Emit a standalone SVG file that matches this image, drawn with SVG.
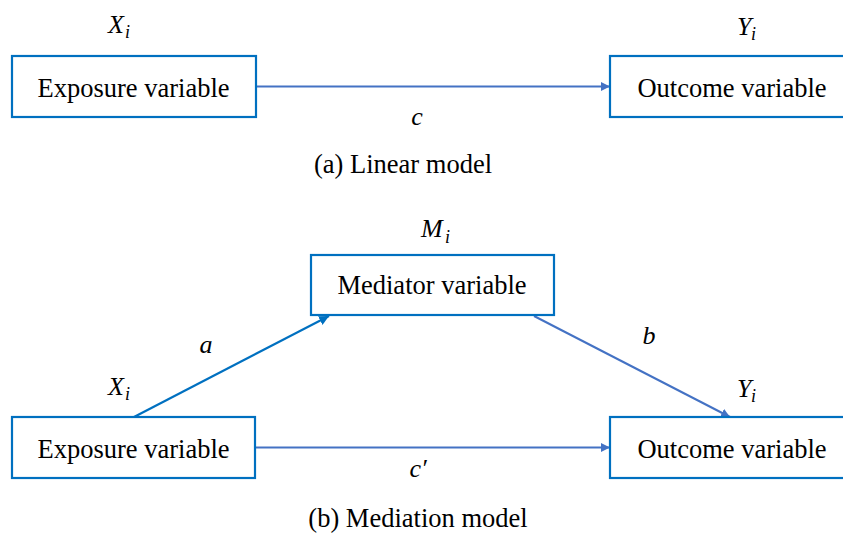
<svg xmlns="http://www.w3.org/2000/svg" width="843" height="542" viewBox="0 0 843 542">
<style>
.box{fill:#fff;stroke:#0070C0;stroke-width:2.2}
.e1{stroke:#4472C4;stroke-width:2;fill:none}
.e2{stroke:#0070C0;stroke-width:2.2;fill:none}
</style>
<defs>
<marker id="ah1" viewBox="0 0 10 10" refX="10" refY="5" markerWidth="4.5" markerHeight="4.5" orient="auto" markerUnits="strokeWidth">
<path d="M0,0 L10,5 L0,10 z" fill="#4472C4"/>
</marker>
<marker id="ah2" viewBox="0 0 10 10" refX="10" refY="5" markerWidth="4.5" markerHeight="4.5" orient="auto" markerUnits="strokeWidth">
<path d="M0,0 L10,5 L0,10 z" fill="#0070C0"/>
</marker>
</defs>
<g id="connectors">
<line class="e1" x1="256" y1="86.5" x2="610" y2="86.5" marker-end="url(#ah1)"/>
<line class="e1" x1="255" y1="447.5" x2="610" y2="447.5" marker-end="url(#ah1)"/>
<line class="e2" x1="134" y1="417" x2="329" y2="316" marker-end="url(#ah2)"/>
<line class="e1" x1="534" y1="316" x2="730" y2="417" marker-end="url(#ah1)"/>
<text x="417" y="125" font-family="Liberation Serif, serif" font-style="italic" font-size="26" text-anchor="middle">c</text>
<text x="206" y="353" font-family="Liberation Serif, serif" font-style="italic" font-size="26" text-anchor="middle">a</text>
<text x="649" y="344" font-family="Liberation Serif, serif" font-style="italic" font-size="26" text-anchor="middle">b</text>
<text x="418" y="477" font-family="Liberation Serif, serif" font-style="italic" font-size="26" text-anchor="middle">c′</text>
</g>
<g id="exposure-a">
<rect class="box" x="12" y="56" width="244" height="61"/>
<text x="133.5" y="97" font-family="Liberation Serif, serif" font-size="26.5" text-anchor="middle">Exposure variable</text>
<text x="108" y="33" font-family="Liberation Serif, serif" font-style="italic" font-size="26">X</text>
<text x="125" y="38" font-family="Liberation Serif, serif" font-style="italic" font-size="18">i</text>
</g>
<g id="outcome-a">
<rect class="box" x="610" y="56" width="250" height="61"/>
<text x="732" y="97" font-family="Liberation Serif, serif" font-size="26.5" text-anchor="middle">Outcome variable</text>
<text x="737" y="35" font-family="Liberation Serif, serif" font-style="italic" font-size="26">Y</text>
<text x="751" y="40" font-family="Liberation Serif, serif" font-style="italic" font-size="18">i</text>
</g>
<g id="caption-a">
<text x="403" y="173" font-family="Liberation Serif, serif" font-size="26.5" text-anchor="middle">(a) Linear model</text>
</g>
<g id="mediator">
<rect class="box" x="311" y="255" width="243" height="60"/>
<text x="432" y="294" font-family="Liberation Serif, serif" font-size="26.5" text-anchor="middle">Mediator variable</text>
<text x="421" y="237" font-family="Liberation Serif, serif" font-style="italic" font-size="26">M</text>
<text x="445" y="243" font-family="Liberation Serif, serif" font-style="italic" font-size="18">i</text>
</g>
<g id="exposure-b">
<rect class="box" x="12" y="417" width="243" height="61"/>
<text x="133.5" y="458" font-family="Liberation Serif, serif" font-size="26.5" text-anchor="middle">Exposure variable</text>
<text x="108" y="395" font-family="Liberation Serif, serif" font-style="italic" font-size="26">X</text>
<text x="125" y="400" font-family="Liberation Serif, serif" font-style="italic" font-size="18">i</text>
</g>
<g id="outcome-b">
<rect class="box" x="610" y="417" width="250" height="61"/>
<text x="732" y="458" font-family="Liberation Serif, serif" font-size="26.5" text-anchor="middle">Outcome variable</text>
<text x="737" y="397" font-family="Liberation Serif, serif" font-style="italic" font-size="26">Y</text>
<text x="751" y="402" font-family="Liberation Serif, serif" font-style="italic" font-size="18">i</text>
</g>
<g id="caption-b">
<text x="418" y="527" font-family="Liberation Serif, serif" font-size="26.5" text-anchor="middle">(b) Mediation model</text>
</g>
</svg>
